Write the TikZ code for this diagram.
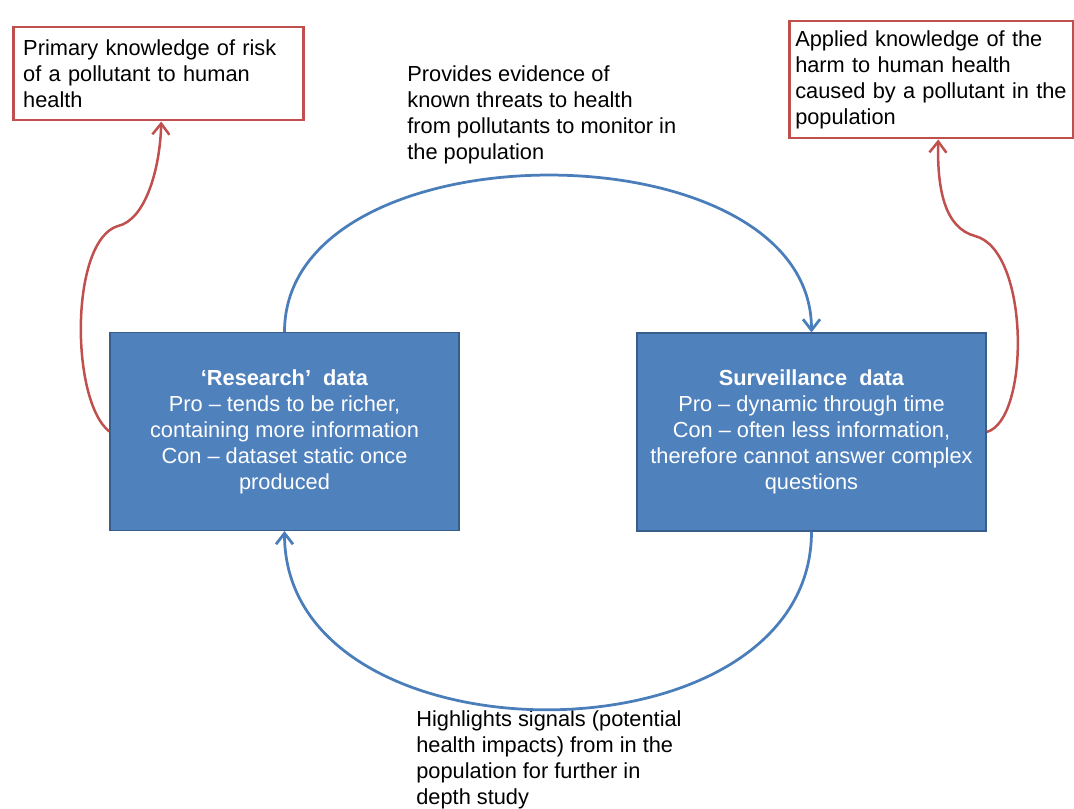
\documentclass[tikz,border=0pt]{standalone}
\usepackage{fontspec}
\setmainfont{Liberation Sans}
\usetikzlibrary{arrows.meta}
\definecolor{r192g80b77}{rgb}{0.752941,0.313725,0.301961}
\definecolor{r79g129b189}{rgb}{0.309804,0.505882,0.741176}
\definecolor{r56g93b138}{rgb}{0.219608,0.364706,0.541176}
\definecolor{r74g126b187}{rgb}{0.290196,0.494118,0.733333}
\tikzset{
  databox/.style={draw=r56g93b138, line width=0.03cm, fill=r79g129b189, text=white,
    align=center, minimum width=6.98cm, minimum height=3.95cm, inner sep=0cm},
  knowbox/.style={draw=r192g80b77, line width=0.05cm, fill=white, align=left,
    anchor=north west, inner xsep=0.12cm, inner ysep=0cm},
  notetext/.style={anchor=north west, align=left, inner sep=0cm},
  flowline/.style={draw=r74g126b187, line width=0.055cm,
    -{Straight Barb[length=0.22cm,width=0.34cm]}},
  knowline/.style={draw=r192g80b77, line width=0.05cm,
    -{Straight Barb[length=0.22cm,width=0.34cm]}}
}
\begin{document}
\begin{tikzpicture}
{\fontsize{12.4pt}{14.8pt}\selectfont
% \clip (0,0) rectangle (21.480000,16.160000);
\useasboundingbox (0,0) rectangle (21.480000,16.160000);

% Drawing knowledge boxes
\node [knowbox, inner xsep=0.2cm, text width=5.4cm, minimum height=1.86cm] (prim) at (0.240000,15.640000)
  {Primary knowledge of risk\\of a pollutant to human\\health};
\node [knowbox, text width=5.44cm, minimum height=2.34cm] (appl) at (15.760000,15.760000)
  {Applied knowledge of the\\harm to human health\\caused by a pollutant in the\\population};

% Drawing data boxes
\node [databox] (res) at (5.690000,7.530000)
  {\textbf{‘Research’\ \ data}\\Pro – tends to be richer,\\containing more information\\Con – dataset static once\\produced};
\node [databox] (sur) at (16.230000,7.520000)
  {\textbf{Surveillance\ \ data}\\Pro – dynamic through time\\Con – often less information,\\therefore cannot answer complex\\questions};

% Drawing notes
\node [notetext] (evid) at (8.140000,14.860000)
  {Provides evidence of\\known threats to health\\from pollutants to monitor in\\the population};
\node [notetext] (sign) at (8.320000,1.960000)
  {Highlights signals (potential\\health impacts) from in the\\population for further in\\depth study};

% Drawing blue loop
\draw [flowline] (res.north) .. controls +(0,4.180000) and +(0,4.180000) .. (sur.north);
\draw [flowline] (sur.south) .. controls +(0,-4.750000) and +(0,-4.750000) .. (res.south);

% Drawing red links
\draw [knowline] (res.west) .. controls (1.400000,8.160000) and (1.400000,11.360000) .. (2.360000,11.640000)
  .. controls (2.900000,11.760000) and (3.200000,12.760000) .. ([xshift=0.06cm]prim.south);
\draw [knowline] (sur.east) .. controls (20.600000,7.760000) and (20.600000,11.160000) .. (19.500000,11.440000)
  .. controls (18.900000,11.600000) and (18.740000,12.360000) .. ([xshift=0.14cm]appl.south);
}
\end{tikzpicture}
\end{document}
